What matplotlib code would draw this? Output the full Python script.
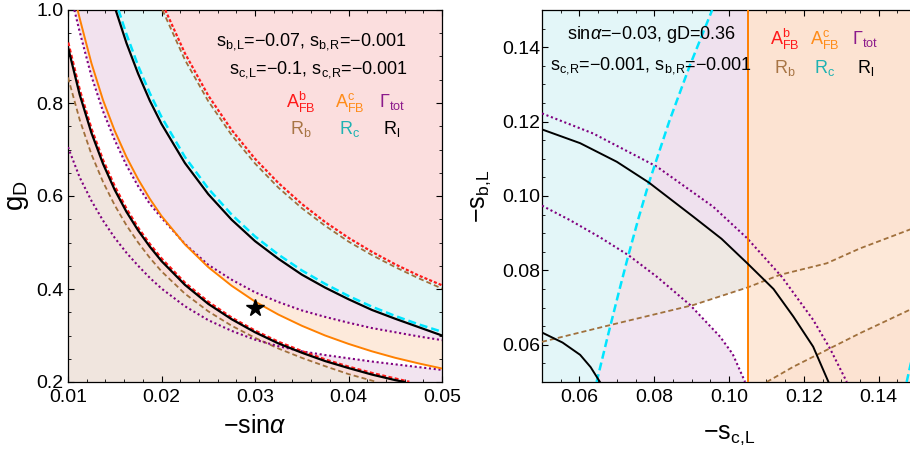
import matplotlib
matplotlib.use("Agg")
import matplotlib.pyplot as plt
from matplotlib.patches import Polygon

# police proche d'Arial (rendu type Mathematica)
plt.rcParams['font.family'] = ['Liberation Sans', 'DejaVu Sans']
plt.rcParams['mathtext.fontset'] = 'custom'
plt.rcParams['mathtext.rm'] = 'Liberation Sans'
plt.rcParams['mathtext.it'] = 'Liberation Sans:italic'
plt.rcParams['mathtext.bf'] = 'Liberation Sans:bold'

# ---------------- panneau gauche : -sin(alpha) vs g_D ----------------
x_bas = [0.01, 0.01125, 0.0125, 0.01375, 0.015, 0.01625, 0.0175, 0.01875, 0.02,
         0.0225, 0.025, 0.0275, 0.03, 0.0325, 0.035, 0.0375, 0.04, 0.0425, 0.045]

# bornes superieures (entrent par le haut du cadre)
rl_haut_x = [0.0151, 0.01625, 0.0175, 0.01875, 0.02, 0.0225, 0.025, 0.0275, 0.03,
             0.0325, 0.035, 0.0375, 0.04, 0.0425, 0.045, 0.0475, 0.05]
rl_haut_y = [1.0, 0.929, 0.863, 0.805, 0.755, 0.671, 0.604, 0.549, 0.503,
             0.465, 0.431, 0.403, 0.378, 0.355, 0.336, 0.318, 0.300]
rc_haut_x = [0.0154, 0.01625, 0.0175, 0.01875, 0.02, 0.0225, 0.025, 0.0275, 0.03,
             0.0325, 0.035, 0.0375, 0.04, 0.0425, 0.045, 0.0475, 0.05]
rc_haut_y = [1.0, 0.948, 0.880, 0.821, 0.770, 0.684, 0.616, 0.560, 0.513,
             0.474, 0.440, 0.411, 0.385, 0.362, 0.342, 0.324, 0.308]
afbb_haut_x = [0.0204, 0.0225, 0.025, 0.0275, 0.03, 0.0325, 0.035, 0.0375, 0.04,
               0.0425, 0.045, 0.0475, 0.05]
afbb_haut_y = [1.0, 0.907, 0.816, 0.742, 0.680, 0.628, 0.583, 0.544, 0.510,
               0.480, 0.453, 0.429, 0.408]
rb_haut_x = [0.0201, 0.0225, 0.025, 0.0275, 0.03, 0.0325, 0.035, 0.0375, 0.04,
             0.0425, 0.045, 0.0475, 0.05]
rb_haut_y = [1.0, 0.893, 0.804, 0.731, 0.670, 0.618, 0.574, 0.536, 0.502,
             0.473, 0.447, 0.423, 0.401]
afbc_x = [0.01103, 0.01125, 0.0125, 0.01375, 0.015, 0.01625, 0.0175, 0.01875, 0.02,
          0.0225, 0.025, 0.0275, 0.03, 0.0325, 0.035, 0.0375, 0.04, 0.0425, 0.045,
          0.0475, 0.05]
afbc_y = [1.0, 0.982, 0.886, 0.806, 0.740, 0.684, 0.636, 0.594, 0.557,
          0.496, 0.447, 0.407, 0.373, 0.345, 0.321, 0.300, 0.282, 0.266, 0.252,
          0.240, 0.229]
gam_haut_x = [0.01068, 0.01125, 0.0125, 0.01375, 0.015, 0.01625, 0.0175, 0.01875, 0.02,
              0.0225, 0.025, 0.0275, 0.03, 0.0325, 0.035, 0.0375, 0.04, 0.0425, 0.045,
              0.0475, 0.05]
gam_haut_y = [1.0, 0.953, 0.858, 0.782, 0.720, 0.666, 0.621, 0.583, 0.553,
              0.497, 0.452, 0.420, 0.393, 0.372, 0.354, 0.340, 0.3275, 0.316, 0.307,
              0.298, 0.290]

# bornes inferieures (sortent par le bas du cadre)
afbb_bas_y = [0.930, 0.827, 0.744, 0.676, 0.620, 0.572, 0.531, 0.496, 0.465,
              0.413, 0.372, 0.338, 0.310, 0.286, 0.266, 0.248, 0.2325, 0.219, 0.207]
rl_bas_y = [0.920, 0.818, 0.736, 0.669, 0.613, 0.566, 0.526, 0.491, 0.460,
            0.409, 0.368, 0.335, 0.307, 0.283, 0.263, 0.245, 0.230, 0.216, 0.204]
rb_bas_y = [0.855, 0.764, 0.690, 0.630, 0.580, 0.537, 0.500, 0.467, 0.438,
            0.390, 0.352, 0.321, 0.295, 0.272, 0.252, 0.234, 0.217, 0.203]
afbb_fin = (0.0465, 0.2)
rl_fin = (0.046, 0.2)
rb_fin = (0.043, 0.2)
gam_bas_x = x_bas + [0.0475, 0.05]
gam_bas_y = [0.705, 0.640, 0.590, 0.547, 0.510, 0.478, 0.450, 0.424, 0.401,
             0.363, 0.333, 0.310, 0.291, 0.277, 0.266, 0.258, 0.251, 0.244, 0.238,
             0.232, 0.226]
point_etoile = (0.03, 0.36)

# ---------------- panneau droit : -s_cL vs -s_bL ----------------
rc_x = [0.0646, 0.0675, 0.0705, 0.0731, 0.0758, 0.0786, 0.0840, 0.0895, 0.0955]
rc_y = [0.050, 0.062, 0.074, 0.0841, 0.094, 0.1036, 0.120, 0.135, 0.150]
rc2_x = [0.1475, 0.1485, 0.1495]
rc2_y = [0.050, 0.0545, 0.059]
afbc_coupure = 0.105
rl1_x = [0.050, 0.0602, 0.070, 0.0786, 0.0905, 0.098, 0.1049, 0.1119, 0.1172, 0.1225, 0.1266]
rl1_y = [0.1179, 0.1142, 0.1092, 0.1036, 0.0944, 0.0885, 0.0819, 0.0750, 0.0676, 0.0595, 0.050]
rl2_x = [0.050, 0.0555, 0.0602, 0.063, 0.0655]
rl2_y = [0.0633, 0.0606, 0.0573, 0.054, 0.050]
gam1_x = [0.050, 0.0637, 0.0807, 0.0958, 0.1049, 0.1141, 0.1225, 0.127, 0.1315]
gam1_y = [0.1222, 0.1168, 0.1079, 0.0971, 0.0886, 0.0783, 0.0667, 0.059, 0.050]
gam2_x = [0.050, 0.0575, 0.0655, 0.0731, 0.0807, 0.0896, 0.0976, 0.101, 0.1043]
gam2_y = [0.0974, 0.0935, 0.0889, 0.0841, 0.0783, 0.0707, 0.0622, 0.0575, 0.050]
rb1_x = [0.050, 0.0682, 0.0905, 0.1049, 0.1136, 0.1261, 0.1350, 0.1484, 0.150]
rb1_y = [0.0608, 0.0653, 0.0707, 0.0754, 0.0788, 0.0819, 0.0859, 0.0910, 0.0916]
rb2_x = [0.1101, 0.1172, 0.1261, 0.1350, 0.150]
rb2_y = [0.050, 0.0541, 0.0586, 0.0631, 0.0702]

# couleurs
C_ROUGE, C_BRUN, C_CYAN = '#ff1a1a', '#a0703c', '#00e5ff'
C_VIOLET, C_ORANGE, C_NOIR = '#800080', '#ff8000', 'black'


def remplir(ax, xs, ys, couleur, clip=None):
    p = ax.fill(xs, ys, color=couleur, lw=0, zorder=1)[0]
    if clip is not None:
        masque = Polygon(list(zip(clip[0], clip[1])), closed=True, transform=ax.transData)
        p.set_clip_path(masque)
    return p


def cadre(ax, xmaj, xmin, ymaj, ymin, pady):
    ax.set_xticks(xmaj)
    ax.set_xticks(xmin, minor=True)
    ax.set_yticks(ymaj)
    ax.set_yticks(ymin, minor=True)
    ax.tick_params(which='both', direction='in', top=True, right=True, labelsize=14)
    ax.tick_params(which='major', length=4.5, width=0.8)
    ax.tick_params(which='minor', length=2.5, width=0.6)
    ax.tick_params(axis='x', pad=5)
    ax.tick_params(axis='y', pad=pady)
    for s in ax.spines.values():
        s.set_linewidth(0.9)


def legende(ax, xs, y1, y2):
    kw = dict(transform=ax.transAxes, fontsize=13, ha='center', va='center', zorder=10)
    ax.text(xs[0], y1, r'$\mathrm{A^b_{FB}}$', color='#ff1a1a', **kw)
    ax.text(xs[1], y1, r'$\mathrm{A^c_{FB}}$', color='#ff8c1a', **kw)
    ax.text(xs[2], y1, r'$\Gamma_\mathrm{tot}$', color='#8b1a8b', **kw)
    ax.text(xs[0], y2, r'$\mathrm{R_b}$', color='#a87545', **kw)
    ax.text(xs[1], y2, r'$\mathrm{R_c}$', color='#1fb2b2', **kw)
    ax.text(xs[2], y2, r'$\mathrm{R_l}$', color='black', **kw)


fig = plt.figure(figsize=(9.10, 4.51), dpi=100)
ax1 = fig.add_axes([68 / 910, 69 / 451, 374 / 910, 372 / 451])
ax2 = fig.add_axes([542 / 910, 69 / 451, 374 / 910, 372 / 451])

# ---- panneau gauche ----
ax1.set_xlim(0.01, 0.05)
ax1.set_ylim(0.2, 1.0)
remplir(ax1, afbc_x + [0.05], afbc_y + [1.0], '#fdeadb')
remplir(ax1, gam_haut_x + [0.05], gam_haut_y + [1.0], '#f2e2ee')
remplir(ax1, rl_haut_x + [0.05], rl_haut_y + [1.0], '#e1f6f6')
remplir(ax1, afbb_haut_x + [0.05], afbb_haut_y + [1.0], '#fbdede')
remplir(ax1, gam_bas_x + [0.05, 0.01], gam_bas_y + [0.2, 0.2], '#f2e4f0')
remplir(ax1, x_bas + [afbb_fin[0], 0.01], afbb_bas_y + [afbb_fin[1], 0.2], '#f8dcd9')
remplir(ax1, x_bas[:-1] + [rb_fin[0], 0.01], rb_bas_y + [rb_fin[1], 0.2], '#f0e5de')

ax1.plot(rb_haut_x, rb_haut_y, color=C_BRUN, lw=1.3, dashes=(2.8, 1.7), zorder=3)
ax1.plot(x_bas[:-1] + [rb_fin[0]], rb_bas_y + [rb_fin[1]], color=C_BRUN, lw=1.3, dashes=(2.8, 1.7), zorder=3)
ax1.plot(afbb_haut_x, afbb_haut_y, color=C_ROUGE, lw=1.6, dashes=(1.4, 0.9), zorder=3)
ax1.plot(gam_haut_x, gam_haut_y, color=C_VIOLET, lw=1.5, dashes=(1, 1.3), zorder=4)
ax1.plot(gam_bas_x, gam_bas_y, color=C_VIOLET, lw=1.5, dashes=(1, 1.3), zorder=4)
ax1.plot(rc_haut_x, rc_haut_y, color=C_CYAN, lw=1.8, dashes=(3.2, 1.6), zorder=4)
ax1.plot(afbc_x, afbc_y, color=C_ORANGE, lw=1.4, zorder=4)
ax1.plot(x_bas + [afbb_fin[0]], afbb_bas_y + [afbb_fin[1]], color=C_ROUGE, lw=2.0, dashes=(1.4, 0.9), zorder=4)
ax1.plot(rl_haut_x, rl_haut_y, color=C_NOIR, lw=1.6, zorder=5)
ax1.plot(x_bas + [rl_fin[0]], rl_bas_y + [rl_fin[1]], color=C_NOIR, lw=1.6, zorder=5)
ax1.plot(*point_etoile, marker='*', ms=13, color='black', zorder=6)

cadre(ax1, [0.01, 0.02, 0.03, 0.04, 0.05], [0.01 + 0.002 * i for i in range(21)],
      [0.2, 0.4, 0.6, 0.8, 1.0], [0.2 + 0.05 * i for i in range(17)], 3)
ax1.set_xticklabels(['0.01', '0.02', '0.03', '0.04', '0.05'])
ax1.set_yticklabels(['0.2', '0.4', '0.6', '0.8', '1.0'])
ax1.set_xlabel(r'$-\mathrm{sin}\alpha$', fontsize=18)
ax1.set_ylabel(r'$\mathrm{g_D}$', fontsize=20)
ax1.xaxis.set_label_coords(0.5, -0.085)
ax1.yaxis.set_label_coords(-0.098, 0.5)

ax1.text(0.905, 0.914, r'$\mathrm{s_{b,\!L}}$=−0.07, $\mathrm{s_{b,\!R}}$=−0.001',
         transform=ax1.transAxes, fontsize=13, ha='right', va='center', zorder=10)
ax1.text(0.910, 0.839, r'$\mathrm{s_{c,\!L}}$=−0.1, $\mathrm{s_{c,\!R}}$=−0.001',
         transform=ax1.transAxes, fontsize=13, ha='right', va='center', zorder=10)
legende(ax1, [0.623, 0.754, 0.866], 0.752, 0.680)

# ---- panneau droit ----
ax2.set_xlim(0.05, 0.15)
ax2.set_ylim(0.05, 0.15)
ax2.set_facecolor('#efe1ee')
sous_noir = (rl1_x + [0.05], rl1_y + [0.05])
sur_brun = (rb1_x + [0.15, 0.05], rb1_y + [0.15, 0.15])
remplir(ax2, *sous_noir, '#eee8e3', clip=sur_brun)
remplir(ax2, rb1_x + [0.15, 0.05], rb1_y + [0.05, 0.05], 'white')
remplir(ax2, gam2_x + [0.05], gam2_y + [0.05], '#f1e4f1')
remplir(ax2, gam2_x + [0.05], gam2_y + [0.05], '#efe5ea', clip=sur_brun)
remplir(ax2, rc_x + [0.05, 0.05], rc_y + [0.15, 0.05], '#e3f6f8')
ax2.axvspan(afbc_coupure, 0.15, color='#fce3d2', lw=0, zorder=1)
entre_brun_x = rb1_x[3:] + rb2_x[::-1] + [afbc_coupure]
entre_brun_y = rb1_y[3:] + rb2_y[::-1] + [0.05]
remplir(ax2, entre_brun_x, entre_brun_y, '#fde8d8',
        clip=([afbc_coupure, 0.15, 0.15, afbc_coupure], [0.05, 0.05, 0.15, 0.15]))

ax2.plot(rb1_x, rb1_y, color=C_BRUN, lw=1.3, dashes=(2.8, 1.7), zorder=3)
ax2.plot(rb2_x, rb2_y, color=C_BRUN, lw=1.3, dashes=(2.8, 1.7), zorder=3)
ax2.plot(gam1_x, gam1_y, color=C_VIOLET, lw=1.5, dashes=(1, 1.3), zorder=4)
ax2.plot(gam2_x, gam2_y, color=C_VIOLET, lw=1.5, dashes=(1, 1.3), zorder=4)
ax2.plot(rc_x, rc_y, color=C_CYAN, lw=1.8, dashes=(3.2, 1.6), zorder=4)
ax2.plot(rc2_x, rc2_y, color=C_CYAN, lw=1.8, dashes=(3.2, 1.6), zorder=4)
ax2.axvline(afbc_coupure, color=C_ORANGE, lw=1.4, zorder=4)
ax2.plot(rl1_x, rl1_y, color=C_NOIR, lw=1.4, zorder=5)
ax2.plot(rl2_x, rl2_y, color=C_NOIR, lw=1.4, zorder=5)

cadre(ax2, [0.06, 0.08, 0.10, 0.12, 0.14], [0.05 + 0.005 * i for i in range(21)],
      [0.06, 0.08, 0.10, 0.12, 0.14], [0.05 + 0.005 * i for i in range(21)], 1.5)
ax2.set_xticklabels(['0.06', '0.08', '0.10', '0.12', '0.14'])
ax2.set_yticklabels(['0.06', '0.08', '0.10', '0.12', '0.14'])
ax2.set_xlabel(r'$-\mathrm{s_{c,\!L}}$', fontsize=18)
ax2.set_ylabel(r'$-\mathrm{s_{b,\!L}}$', fontsize=18)
ax2.xaxis.set_label_coords(0.5, -0.11)
ax2.yaxis.set_label_coords(-0.13, 0.5)

ax2.text(0.294, 0.933, r'sin$\alpha$=−0.03, gD=0.36',
         transform=ax2.transAxes, fontsize=13, ha='center', va='center', zorder=10)
ax2.text(0.290, 0.852, r'$\mathrm{s_{c,\!R}}$=−0.001, $\mathrm{s_{b,\!R}}$=−0.001',
         transform=ax2.transAxes, fontsize=13, ha='center', va='center', zorder=10)
legende(ax2, [0.648, 0.755, 0.864], 0.922, 0.845)

fig.savefig('out.png', dpi=100)
